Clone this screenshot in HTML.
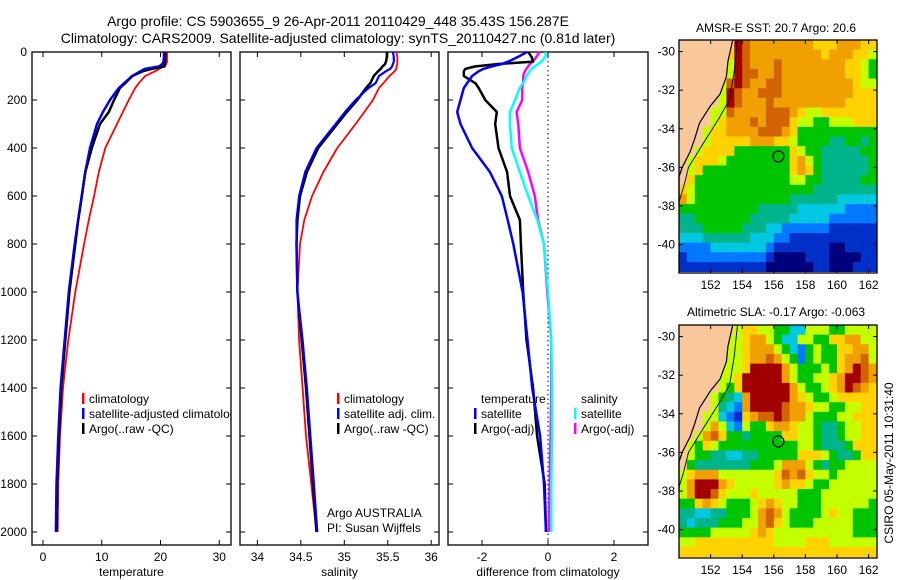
<!DOCTYPE html>
<html><head><meta charset="utf-8"><style>
html,body{margin:0;padding:0;background:#fff;}
svg{display:block;font-family:"Liberation Sans",sans-serif;}
</style></head><body>
<svg id="fig" width="900" height="580" viewBox="0 0 900 580">
<defs><clipPath id="p1clip"><rect x="32" y="52" width="199" height="493"/></clipPath></defs>
<text x="338" y="26" font-size="14" text-anchor="middle">Argo profile: CS 5903655_9 26-Apr-2011 20110429_448 35.43S 156.287E</text>
<text x="338" y="43" font-size="14" text-anchor="middle">Climatology: CARS2009. Satellite-adjusted climatology: synTS_20110427.nc (0.81d later)</text>
<text x="776" y="32" font-size="12" text-anchor="middle">AMSR-E SST: 20.7 Argo: 20.6</text>
<text x="776" y="316" font-size="12" text-anchor="middle">Altimetric SLA: -0.17 Argo: -0.063</text>
<text x="0" y="0" font-size="12" text-anchor="middle" transform="translate(893,463) rotate(-90)">CSIRO 05-May-2011 10:31:40</text>
</svg>
<script>
const depths=[0,20,40,50,60,70,80,100,130,150,200,250,300,400,500,600,700,800,1000,1200,1400,1600,1800,2000];
const tempClim=[21.1,21.1,21.1,21.0,20.6,19.8,19.1,17.4,16.3,15.7,14.6,13.6,12.6,10.6,9.5,8.7,7.8,7.0,5.5,4.3,3.4,2.9,2.6,2.5];
const tempSat=[20.6,20.6,20.5,20.3,19.8,17.4,16.6,15.2,13.8,12.9,11.4,10.2,9.2,8.0,7.2,6.6,6.0,5.4,4.4,3.7,3.0,2.6,2.3,2.2];
const tempArgo=[20.8,20.8,20.8,20.7,20.7,18.6,17.0,15.2,14.0,13.1,12.1,11.2,9.7,8.3,7.2,6.6,6.0,5.5,4.5,3.8,3.1,2.7,2.4,2.3];
const salClim=[35.60,35.61,35.61,35.61,35.60,35.60,35.58,35.52,35.45,35.40,35.33,35.23,35.13,34.92,34.76,34.63,34.54,34.49,34.46,34.48,34.52,34.56,34.62,34.68];
const salSat=[35.56,35.57,35.57,35.56,35.55,35.53,35.48,35.40,35.36,35.28,35.13,35.01,34.90,34.68,34.55,34.48,34.45,34.45,34.46,34.52,34.57,34.61,34.65,34.69];
const salArgo=[35.49,35.49,35.48,35.47,35.44,35.42,35.39,35.34,35.30,35.25,35.15,35.03,34.92,34.70,34.57,34.49,34.46,34.45,34.46,34.51,34.56,34.60,34.64,34.68];
const dTempSat=[-0.64,-0.9,-1.2,-1.4,-1.7,-1.95,-2.1,-2.3,-2.45,-2.55,-2.65,-2.75,-2.65,-2.3,-1.76,-1.4,-1.22,-1.05,-0.77,-0.62,-0.48,-0.24,-0.12,-0.06];
const dTempArgo=[-0.6,-0.5,-0.45,-1.5,-2.2,-2.5,-2.55,-2.55,-2.2,-2.1,-1.9,-1.55,-1.6,-1.5,-1.24,-1.15,-0.85,-0.82,-0.75,-0.65,-0.45,-0.33,-0.1,-0.06];
const dSalSat=[-0.06,-0.08,-0.2,-0.3,-0.4,-0.5,-0.55,-0.65,-0.75,-0.85,-1.0,-1.15,-1.15,-1.1,-0.85,-0.6,-0.32,-0.12,0.0,0.1,0.12,0.12,0.1,0.1];
const dSalArgo=[-0.25,-0.35,-0.45,-0.55,-0.6,-0.65,-0.7,-0.75,-0.75,-0.78,-0.78,-0.95,-0.9,-0.85,-0.6,-0.4,-0.3,-0.12,-0.02,0.1,0.1,0.08,0.05,0.02];
const depthTicks=[0,200,400,600,800,1000,1200,1400,1600,1800,2000];
const tempTicks=[0,10,20,30];
const salTicks=[34,34.5,35,35.5,36];
const salTickLabels=["34","34.5","35","35.5","36"];
const diffTicks=[-2,0,2];
const latTicks=[-30,-32,-34,-36,-38,-40];
const lonTicks=[152,154,156,158,160,162];
const sstGrid=[
"-------a98888888877788877","------7a98888888887888776","------6a98889888888887765","------6a99889888888887765",
"-----69a98899888888888766","-----6a988999888888888777","-----6a988898888888887777","----669888899987667777777",
"----678889899976655666777","---6778888999875555555555","---6777778887765555445545","--67777555555576554444455",
"-677765555555578654444445","-675555555555578754444445","-755555555555566554444455","7655555555555555544444444",
"8655555555555544444433333","5555555555444443333332222","4455555554444433333222222","4445555544433222222111111",
"3334444443332211111111111","2222333333321111111001111","1222222222210000111000011","1111111111100000011000111"];
const slaGrid=[
"-------677665533666556666","------6678865336655778866","------6678886532565577886","------6678898652565578896",
"-----6667aaaa865556578a98","-----667aaaaa86556678aa98","-----657aaaaaa8655678a987","----65438aaaaa87655677777",
"----64328aaaa988766556677","---663217899a988655566777","---6863265578876654456677","--68975545555776654456677",
"-657655555555556654445777","-655443344555557776544577","-544444445556888654556666","6788866666667989766566666",
"68aaa87666667877655666666","68aa976667666665556666666","5578765556787665556666665","4433445556898655556766555",
"4344455566897655566666555","5555666667876666666666555","6677777777776666777666666","7777777777777777777777777"];
const coastLon=[153.4,153.1,153.0,152.6,152.0,151.3,151.0,150.7,150.2,150.0,150.0];
const coastLat=[-29.4,-30.5,-31.3,-32.2,-32.8,-33.7,-34.5,-35.2,-36.0,-36.5,-38.0];
const isoLon=[153.7,153.5,153.2,152.5,151.5,150.6,150.3,150.0];
const isoLat=[-29.4,-31.0,-32.5,-33.5,-34.8,-36.0,-37.0,-37.8];
const floatLon=156.29, floatLat=-35.43;

const NS="http://www.w3.org/2000/svg";
const svg=document.getElementById('fig');
function mk(tag,attrs,parent){const e=document.createElementNS(NS,tag);for(const k in attrs)e.setAttribute(k,attrs[k]);(parent||svg).appendChild(e);return e;}
const Y0=52,Y1=545;
const yD=d=>52+0.24*d;

function panel(name,x0,x1,xmin,xmax,xt,xtl,title,showY){
  const g=mk('g',{});
  
  
  const xs=v=>x0+(v-xmin)/(xmax-xmin)*(x1-x0);
  const box=mk('rect',{x:x0,y:Y0,width:x1-x0,height:Y1-Y0,fill:'none',stroke:'#000','stroke-width':1.3},g);
  
  
  depthTicks.forEach(d=>{
    mk('line',{x1:x0,x2:x0+5,y1:yD(d),y2:yD(d),stroke:'#000'},g);
    mk('line',{x1:x1-5,x2:x1,y1:yD(d),y2:yD(d),stroke:'#000'},g);
    if(showY){const t=mk('text',{x:x0-5,y:yD(d)+4,'font-size':12,'text-anchor':'end'},g);t.textContent=d;
      
      }
  });
  xt.forEach((v,i)=>{
    mk('line',{x1:xs(v),x2:xs(v),y1:Y0,y2:Y0+5,stroke:'#000'},g);
    mk('line',{x1:xs(v),x2:xs(v),y1:Y1-5,y2:Y1,stroke:'#000'},g);
    const t=mk('text',{x:xs(v),y:561,'font-size':12,'text-anchor':'middle'},g);t.textContent=xtl[i];
    
    
  });
  const at=mk('text',{x:(x0+x1)/2,y:576,'font-size':12,'text-anchor':'middle'},g);at.textContent=title;
  
  
  return {g,xs};
}
function line(p,vals,color,w,nm){
  const pts=vals.map((v,i)=>p.xs(v).toFixed(1)+','+yD(depths[i]).toFixed(1)).join(' ');
  const l=mk('polyline',{points:pts,fill:'none',stroke:color,'stroke-width':w,'stroke-linejoin':'round'},p.g);
  
  
}
function legend(g,x,y,items,nm,clip){
  const lg=mk('g',clip?{'clip-path':'url(#'+clip+')'}:{},g);
  items.forEach((it,i)=>{
    const yy=y+i*15;
    if(it[0]) mk('rect',{x:x,y:yy-10,width:2.5,height:11,fill:it[0]},lg);
    const t=mk('text',{x:x+7,y:yy,'font-size':12},lg);t.textContent=it[1];
    
    
  });
}
const p1=panel('temperature-panel',32,231,-1.87,32,tempTicks,tempTicks.map(String),'temperature',true);
line(p1,tempClim,'#ff0000',1.8,'temp-climatology-line');
line(p1,tempSat,'#0000ff',2.5,'temp-satellite-line');
line(p1,tempArgo,'#000000',2.5,'temp-argo-line');
line(p1,tempSat,'#0000ff',1.5,'temp-satellite-line-top');
legend(p1.g,82,403,[['#f00','climatology'],['#00f','satellite-adjusted climatology'],['#000','Argo(..raw -QC)']],'temp-legend','p1clip');

const p2=panel('salinity-panel',240,439,33.80,36.09,salTicks,salTickLabels,'salinity',false);
line(p2,salClim,'#ff0000',1.8,'sal-climatology-line');
line(p2,salArgo,'#000000',2.5,'sal-argo-line');
line(p2,salSat,'#0000ff',2.2,'sal-satellite-line');
legend(p2.g,337,403,[['#f00','climatology'],['#00f','satellite adj. clim.'],['#000','Argo(..raw -QC)']],'sal-legend');
let t=mk('text',{x:327,y:517,'font-size':12},p2.g);t.textContent='Argo AUSTRALIA';


t=mk('text',{x:327,y:532,'font-size':12},p2.g);t.textContent='PI: Susan Wijffels';



const p3=panel('difference-panel',448,648,-3.03,3.03,diffTicks,diffTicks.map(String),'difference from climatology',false);
mk('line',{x1:p3.xs(0),x2:p3.xs(0),y1:Y0,y2:Y1,stroke:'#000','stroke-dasharray':'1.5,3'},p3.g);
line(p3,dSalArgo,'#ff00ff',2.5,'diff-sal-argo-line');
line(p3,dSalSat,'#00ffff',2.5,'diff-sal-satellite-line');
line(p3,dTempArgo,'#000000',2.5,'diff-temp-argo-line');
line(p3,dTempSat,'#0000ff',2.5,'diff-temp-satellite-line');
legend(p3.g,474,403,[[null,'temperature'],['#00f','satellite'],['#000','Argo(-adj)']],'diff-temp-legend');
legend(p3.g,574,403,[[null,'salinity'],['#0ff','satellite'],['#f0f','Argo(-adj)']],'diff-sal-legend');

const cmap={'0':'#00007f','1':'#0030c8','2':'#0078ff','3':'#00c8e0','4':'#00b48c','5':'#00c400','6':'#c4ff00','7':'#ffd200','8':'#f0a000','9':'#d26400','a':'#a00000','-':'#f9c89a'};
function map(name,top,grid){
  const L=679,R=877,T=top,B=top+233;
  const lonS=v=>L+(v-150)*15.8, latS=v=>T+(-29.4-v)*19.3;
  const g=mk('g',{});
  
  
  grid.forEach((row,r)=>{
    for(let c=0;c<25;c++){
      const ch=row[c]||row[row.length-1];
      const x=lonS(150+c*0.5), y=latS(-29.4-r*0.5);
      const w=Math.min(7.9,R-x), h=Math.min(9.65,B-y);
      if(w>0&&h>0){const cell=mk('rect',{x:x,y:y,width:w+0.4,height:h+0.4,fill:cmap[ch]||cmap['6']},g);
        
        }
    }
  });
  const landPts=coastLon.map((v,i)=>lonS(v)+','+latS(coastLat[i])).join(' ')+' '+L+','+latS(-38)+' '+L+','+T;
  const land=mk('polygon',{points:landPts,fill:cmap['-']},g);
  
  
  const cl=mk('polyline',{points:coastLon.map((v,i)=>lonS(v)+','+latS(coastLat[i])).join(' '),fill:'none',stroke:'#000','stroke-width':1.2},g);
  
  
  const iso=mk('polyline',{points:isoLon.map((v,i)=>lonS(v)+','+latS(isoLat[i])).join(' '),fill:'none',stroke:'#000','stroke-width':0.9},g);
  
  
  const c=mk('circle',{cx:lonS(floatLon),cy:latS(floatLat),r:5.5,fill:'none',stroke:'#000','stroke-width':1.2},g);
  
  
  const fr=mk('rect',{x:L,y:T,width:R-L,height:B-T,fill:'none',stroke:'#000','stroke-width':1.3},g);
  
  
  latTicks.forEach(v=>{
    const y=latS(v);
    mk('line',{x1:L,x2:L+4,y1:y,y2:y,stroke:'#000'},g);
    mk('line',{x1:R-4,x2:R,y1:y,y2:y,stroke:'#000'},g);
    const tt=mk('text',{x:L-4,y:y+4,'font-size':12,'text-anchor':'end'},g);tt.textContent=v;
    
    
  });
  lonTicks.forEach(v=>{
    const x=lonS(v);
    mk('line',{x1:x,x2:x,y1:T,y2:T+4,stroke:'#000'},g);
    mk('line',{x1:x,x2:x,y1:B-4,y2:B,stroke:'#000'},g);
    const tt=mk('text',{x:x,y:B+16,'font-size':12,'text-anchor':'middle'},g);tt.textContent=v;
    
    
  });
}
map('sst-map',40,sstGrid);
map('sla-map',325,slaGrid);
</script>
</body></html>
